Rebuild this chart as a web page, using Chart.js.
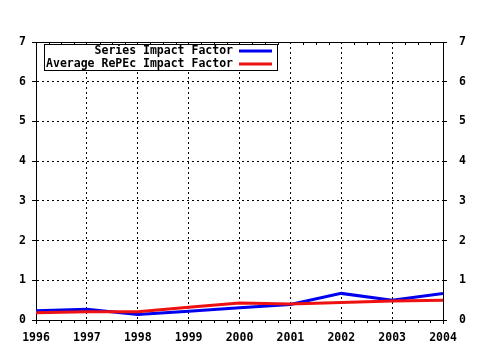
<!DOCTYPE html>
<html>
<head>
<meta charset="utf-8">
<script src="https://cdn.jsdelivr.net/npm/chart.js@4/dist/chart.umd.min.js"></script>
<style>
  html, body { margin: 0; padding: 0; background: #fff; }
  #wrap { width: 480px; height: 350px; }
</style>
</head>
<body>
<div id="wrap"><canvas id="impactChart" width="480" height="350"></canvas></div>
<script>
const years = [1996, 1997, 1998, 1999, 2000, 2001, 2002, 2003, 2004];
const seriesImpact = [0.23, 0.27, 0.14, 0.22, 0.31, 0.39, 0.67, 0.50, 0.67];
const averageRepec = [0.18, 0.21, 0.21, 0.32, 0.43, 0.40, 0.44, 0.48, 0.50];
const yTicks = [0, 1, 2, 3, 4, 5, 6, 7];

const FONT = { family: '"DejaVu Sans Mono", "Liberation Mono", monospace', size: 11.5, weight: 'bold' };

// legend box drawn inside the plot, text right-aligned then a line sample
const boxLegend = {
  id: 'boxLegend',
  afterDraw(chart) {
    const ctx = chart.ctx;
    const x0 = 44, y0 = 44, w = 233, h = 26;
    ctx.save();
    ctx.fillStyle = '#fff';
    ctx.fillRect(x0, y0, w, h);
    ctx.strokeStyle = '#000';
    ctx.lineWidth = 1;
    ctx.strokeRect(x0 + 0.5, y0 + 0.5, w, h);
    ctx.font = 'bold 11.5px ' + FONT.family;
    ctx.textAlign = 'right';
    ctx.textBaseline = 'middle';
    chart.data.datasets.forEach((ds, i) => {
      const y = y0 + 7 + i * 13;
      ctx.fillStyle = '#000';
      ctx.fillText(ds.label, 233, y);
      ctx.strokeStyle = ds.borderColor;
      ctx.lineWidth = 3;
      ctx.beginPath();
      ctx.moveTo(239, y);
      ctx.lineTo(272, y);
      ctx.stroke();
    });
    ctx.restore();
  }
};

// small quarter-year ticks on the bottom and top axis lines
const minorTicks = {
  id: 'minorTicks',
  afterDraw(chart) {
    const ctx = chart.ctx;
    const xs = chart.scales.x;
    const area = chart.chartArea;
    ctx.save();
    ctx.strokeStyle = '#000';
    ctx.lineWidth = 1;
    for (let i = 0; i < years.length - 1; i++) {
      for (let q = 1; q < 4; q++) {
        const px = Math.round(xs.getPixelForValue(years[i] + q / 4)) + 0.5;
        ctx.beginPath();
        ctx.moveTo(px, area.bottom);
        ctx.lineTo(px, area.bottom + 3);
        ctx.moveTo(px, area.top);
        ctx.lineTo(px, area.top + 3);
        ctx.stroke();
      }
    }
    ctx.restore();
  }
};

const ctx = document.getElementById('impactChart').getContext('2d');
new Chart(ctx, {
  type: 'line',
  data: {
    datasets: [
      {
        label: 'Series Impact Factor',
        data: years.map((y, i) => ({ x: y, y: seriesImpact[i] })),
        borderColor: '#0000ee',
        borderWidth: 3,
        pointRadius: 0,
        tension: 0,
        order: 2,
      },
      {
        label: 'Average RePEc Impact Factor',
        data: years.map((y, i) => ({ x: y, y: averageRepec[i] })),
        borderColor: '#ee1111',
        borderWidth: 3,
        pointRadius: 0,
        tension: 0,
        order: 1,
      },
    ],
  },
  options: {
    responsive: false,
    animation: false,
    layout: { padding: { top: 42, left: 0, right: 0, bottom: 0 } },
    plugins: {
      legend: { display: false },
      tooltip: { enabled: false },
    },
    scales: {
      x: {
        type: 'linear',
        min: 1996,
        max: 2004,
        afterFit(scale) { scale.height = 30; },
        ticks: {
          stepSize: 1,
          color: '#000',
          font: FONT,
          padding: 7,
          maxRotation: 0,
          callback: (v) => String(v),
        },
        grid: { color: '#000', tickLength: 4, lineWidth: 1 },
        border: { color: '#000', dash: [2, 3] },
      },
      y: {
        position: 'left',
        min: 0,
        max: 7,
        afterFit(scale) { scale.width = 36; },
        afterBuildTicks(scale) { scale.ticks = yTicks.map(v => ({ value: v })); },
        ticks: { color: '#000', font: FONT, padding: 6 },
        grid: { color: '#000', tickLength: 4, lineWidth: 1 },
        border: { color: '#000', dash: [2, 3] },
      },
      y2: {
        position: 'right',
        min: 0,
        max: 7,
        afterFit(scale) { scale.width = 37; },
        afterBuildTicks(scale) { scale.ticks = yTicks.map(v => ({ value: v })); },
        ticks: { color: '#000', font: FONT, padding: 12 },
        grid: { drawOnChartArea: false, color: '#000', tickLength: 4 },
        border: { color: '#000' },
      },
    },
  },
  plugins: [boxLegend, minorTicks, {
    id: 'topLine',
    afterDraw(chart) {
      const a = chart.chartArea;
      const c = chart.ctx;
      c.save();
      c.strokeStyle = '#000';
      c.lineWidth = 1;
      c.beginPath();
      c.moveTo(a.left, a.top + 0.5);
      c.lineTo(a.right, a.top + 0.5);
      c.stroke();
      c.restore();
    }
  }],
});
</script>
</body>
</html>
